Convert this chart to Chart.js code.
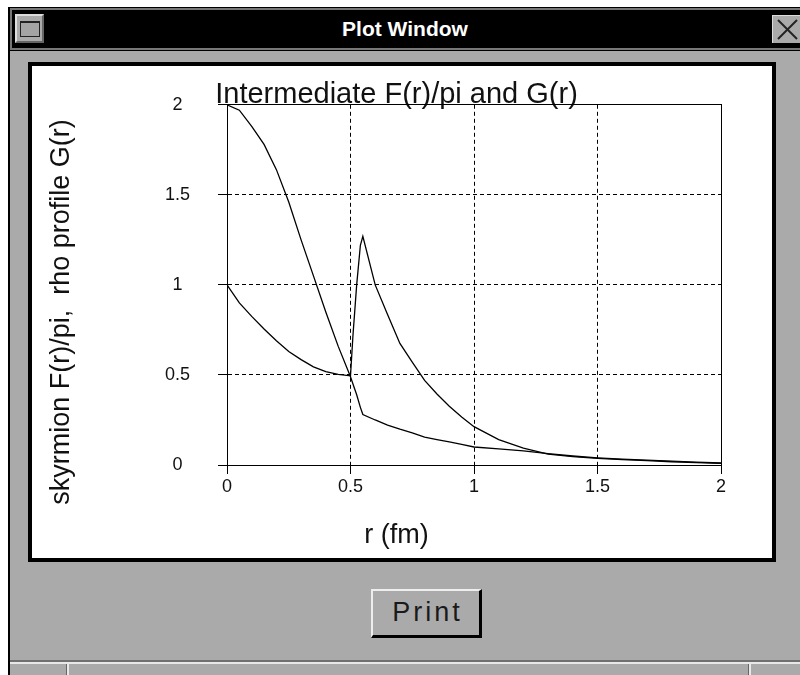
<!DOCTYPE html>
<html>
<head>
<meta charset="utf-8">
<title>Plot Window</title>
<script src="https://cdn.jsdelivr.net/npm/chart.js@4.4.1/dist/chart.umd.min.js"></script>
<style>
  html, body { margin:0; padding:0; width:800px; height:675px; overflow:hidden; background:#fff; }
  .abs { position:absolute; box-sizing:border-box; }
  #frame { left:8px; top:7px; width:800px; height:680px; background:#aaa; border-left:2px solid #000; }
  #titlebar { left:8px; top:7px; width:800px; height:44px; background:#000; }
  #titleline { left:10px; top:8px; width:800px; height:42px; border:2px solid #777; border-right:none; }
  #wintitle { left:8px; top:7px; width:794px; height:44px; line-height:44px; text-align:center; color:#fff;
              font-family:'Liberation Sans', Arial, sans-serif; font-weight:bold; font-size:21px; }
  #iconbox { left:15px; top:14px; width:29px; height:29px; background:#aaa; border:2px solid; border-color:#ddd #666 #666 #ddd; }
  #iconin { left:20px; top:21px; width:20px; height:16px; background:#a4a4a4; border:1px solid #222; border-top-width:2px; }
  #closebox { left:772px; top:15px; width:34px; height:28px; background:#aaa; border-top:1px solid #ddd; border-left:1px solid #ddd; }
  #panel { left:28px; top:62px; width:748px; height:500px; background:#fff; border:4px solid #000; }
  #plot { position:absolute; left:32px; top:66px; width:740px; height:492px; }
  #print { left:371px; top:589px; width:111px; height:49px; background:#aaa; border-style:solid; border-width:2px 3px 3px 2px;
           border-color:#eee #000 #000 #eee; text-align:center; line-height:43px; color:#1a1a1a;
           font-family:'Liberation Sans', Arial, sans-serif; font-size:27px; letter-spacing:3px; padding-left:3px; }
  #sep { left:10px; top:660px; width:790px; height:2px; background:#707070; }
  #sep2 { left:10px; top:662px; width:790px; height:2px; background:#e8e8e8; }
  #div1 { left:66px; top:664px; width:3px; height:11px; border-left:1px solid #666; border-right:2px solid #e8e8e8; }
  #div2 { left:748px; top:664px; width:3px; height:11px; border-left:1px solid #666; border-right:2px solid #e8e8e8; }
</style>
</head>
<body>
<div id="frame" class="abs"></div>
<div id="titlebar" class="abs"></div>
<div id="titleline" class="abs"></div>
<div id="wintitle" class="abs">Plot Window</div>
<div id="iconbox" class="abs"></div>
<div id="iconin" class="abs"></div>
<div id="closebox" class="abs">
  <svg width="34" height="28" style="position:absolute;left:0;top:0">
    <line x1="5" y1="4" x2="24" y2="23" stroke="#222" stroke-width="2"/>
    <line x1="24" y1="4" x2="5" y2="23" stroke="#222" stroke-width="2"/>
  </svg>
</div>
<div id="panel" class="abs"></div>
<canvas id="plot" width="740" height="492"></canvas>
<div id="print" class="abs">Print</div>
<div id="sep" class="abs"></div>
<div id="sep2" class="abs"></div>
<div id="div1" class="abs"></div>
<div id="div2" class="abs"></div>

<script>
// r (fm) grid the two profiles were read on
var radius = [0, 0.05, 0.1, 0.15, 0.2, 0.25, 0.3, 0.35, 0.4, 0.45, 0.5, 0.51, 0.525, 0.54, 0.55,
              0.6, 0.65, 0.7, 0.75, 0.8, 0.85, 0.9, 0.95, 1.0, 1.1, 1.2, 1.3, 1.4, 1.5, 1.6, 1.7, 1.8, 1.9, 2.0];

// skyrmion F(r)/pi
var skyrmionF = [2.0, 1.97, 1.88, 1.78, 1.64, 1.46, 1.25, 1.05, 0.85, 0.66, 0.49, 0.45, 0.39, 0.32, 0.28,
                 0.25, 0.222, 0.199, 0.178, 0.155, 0.141, 0.128, 0.114, 0.10, 0.09, 0.078, 0.063, 0.05, 0.04, 0.033, 0.027, 0.021, 0.016, 0.011];

// rho profile G(r)
var rhoG = [1.0, 0.90, 0.825, 0.755, 0.69, 0.63, 0.585, 0.545, 0.518, 0.503, 0.495, 0.72, 1.0, 1.22, 1.27,
            1.0, 0.836, 0.675, 0.571, 0.47, 0.394, 0.326, 0.267, 0.213, 0.141, 0.094, 0.06, 0.047, 0.037, 0.03, 0.024, 0.018, 0.013, 0.009];

var xTicks = [0, 0.5, 1, 1.5, 2];
var yTicks = [0, 0.5, 1, 1.5, 2];

var fontFam = "'Liberation Sans', Arial, sans-serif";

function toPoints(ys){
    return radius.map(function(r, i){ return {x: r, y: ys[i]}; });
}

// solid box round the plot area and the rotated y title
var plotFrame = {
    id: 'plotFrame',
    afterDraw: function(chart, args, opts){
        var a = chart.chartArea;
        var ctx = chart.ctx;
        ctx.save();
        ctx.strokeStyle = '#000';
        ctx.lineWidth = 1;
        var l = Math.round(a.left - 0.5) + 0.5, t = Math.round(a.top - 0.5) + 0.5;
        var r = Math.round(a.right - 0.5) + 0.5, b = Math.round(a.bottom - 0.5) + 0.5;
        ctx.strokeRect(l, t, r - l, b - t);
        ctx.translate(opts.x, chart.height / 2);
        ctx.rotate(-Math.PI / 2);
        ctx.font = opts.size + 'px ' + fontFam;
        ctx.fillStyle = '#111';
        ctx.textAlign = 'center';
        ctx.textBaseline = 'middle';
        ctx.fillText(opts.text, 0, 0);
        ctx.restore();
    }
};

var gridOpts = { color: '#000', lineWidth: 1, tickLength: 9, tickColor: '#000', tickBorderDash: [] };
var borderOpts = { color: '#000', width: 1, dash: [4, 3] };
var tickFont = { family: fontFam, size: 18 };
var plainLabel = function(v){ return String(v); };

var ctx = document.getElementById('plot').getContext('2d');
var chart = new Chart(ctx, {
    type: 'line',
    data: {
        datasets: [
            { label: 'F(r)/pi', data: toPoints(skyrmionF), borderColor: '#000', borderWidth: 1.3, pointRadius: 0, tension: 0, fill: false },
            { label: 'G(r)', data: toPoints(rhoG), borderColor: '#000', borderWidth: 1.3, pointRadius: 0, tension: 0, fill: false }
        ]
    },
    plugins: [plotFrame],
    options: {
        responsive: false,
        animation: false,
        events: [],
        layout: { padding: { left: 40, right: 51, top: 0, bottom: 0 } },
        plugins: {
            legend: { display: false },
            tooltip: { enabled: false },
            title: {
                display: true,
                text: 'Intermediate F(r)/pi and G(r)',
                color: '#111',
                font: { family: fontFam, size: 29, weight: 'normal', lineHeight: 0.7 },
                padding: { top: 16, bottom: 0 }
            },
            subtitle: {
                display: true,
                position: 'bottom',
                text: 'r (fm)',
                color: '#111',
                font: { family: fontFam, size: 27, weight: 'normal', lineHeight: 1.2 },
                padding: { top: 0, bottom: 6 }
            },
            plotFrame: { text: 'skyrmion F(r)/pi,  rho profile G(r)', x: 30, size: 27 }
        },
        scales: {
            x: {
                type: 'linear',
                min: 0,
                max: 2,
                afterBuildTicks: function(s){ s.ticks = xTicks.map(function(v){ return {value: v}; }); },
                afterFit: function(s){ s.height = 54.6; },
                ticks: { color: '#111', font: tickFont, padding: 2, maxRotation: 0, callback: plainLabel },
                grid: gridOpts,
                border: borderOpts
            },
            y: {
                min: 0,
                max: 2,
                afterBuildTicks: function(s){ s.ticks = yTicks.map(function(v){ return {value: v}; }); },
                afterFit: function(s){ s.width = 155; },
                ticks: { color: '#111', font: tickFont, padding: 28, crossAlign: 'center', callback: plainLabel },
                grid: gridOpts,
                border: borderOpts
            }
        }
    }
});
</script>
</body>
</html>
